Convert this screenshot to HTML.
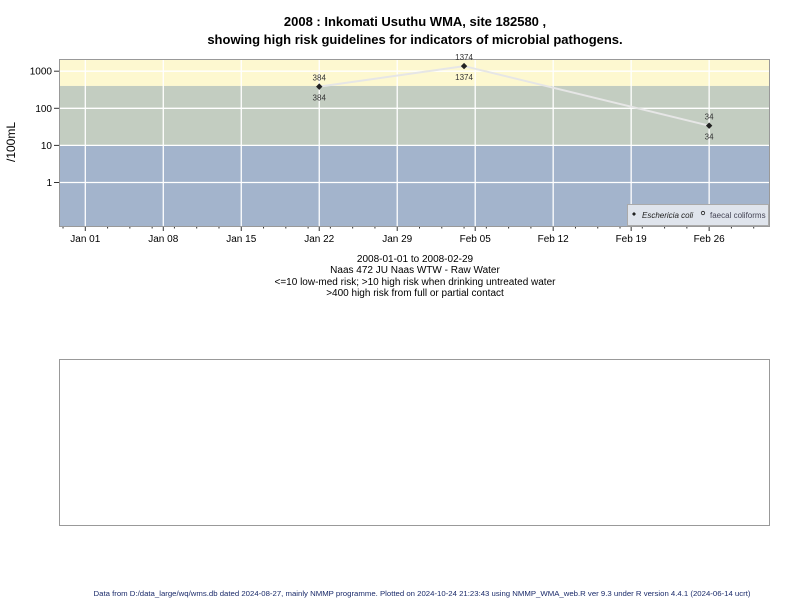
<!DOCTYPE html>
<html><head><meta charset="utf-8"><style>
html,body{margin:0;padding:0;background:#fff;width:800px;height:600px;overflow:hidden}
svg text{font-family:"Liberation Sans",Arial,sans-serif}
</style></head><body>
<svg id="chart" width="800" height="600" xmlns="http://www.w3.org/2000/svg">
<text x="415" y="26" text-anchor="middle" font-size="13" font-weight="bold">2008 : Inkomati Usuthu WMA, site 182580 ,</text>
<text x="415" y="44" text-anchor="middle" font-size="13" font-weight="bold">showing high risk guidelines for indicators of microbial pathogens.</text>
<g id="plot"></g>
<text transform="translate(15,142) rotate(-90)" text-anchor="middle" font-size="12">/100mL</text>
<g font-size="10" text-anchor="middle">
<text x="415" y="262">2008-01-01 to 2008-02-29</text>
<text x="415" y="273">Naas 472 JU Naas WTW - Raw Water</text>
<text x="415" y="285">&lt;=10 low-med risk; &gt;10 high risk when drinking untreated water</text>
<text x="415" y="296">&gt;400 high risk from full or partial contact</text>
</g>
<rect x="59.5" y="359.5" width="710" height="166" fill="none" stroke="#999"/>
<text x="422" y="596" text-anchor="middle" font-size="7.2" fill="#1a2a6a" textLength="657" lengthAdjust="spacingAndGlyphs">Data from D:/data_large/wq/wms.db dated 2024-08-27, mainly NMMP programme. Plotted on 2024-10-24 21:23:43 using NMMP_WMA_web.R ver 9.3 under R version 4.4.1 (2024-06-14 ucrt)</text>
</svg>
<script>
const dayOffsets = [21, 34, 56];
const ecoliValues = [384, 1374, 34];
const yTickValues = [1, 10, 100, 1000];
const xTickLabels = ["Jan 01","Jan 08","Jan 15","Jan 22","Jan 29","Feb 05","Feb 12","Feb 19","Feb 26"];
const xTickDays = [0, 7, 14, 21, 28, 35, 42, 49, 56];
const bandLimits = [10, 400];

const L=59, R=769, T=59, B=226;
const xs = d => 85.3 + d*11.14;
const ys = v => 182.5 - Math.log10(v)*37.1;
const NS="http://www.w3.org/2000/svg";
const g=document.getElementById('plot');
function mk(t,a,p){const e=document.createElementNS(NS,t);for(const k in a)e.setAttribute(k,a[k]);(p||g).appendChild(e);return e;}

let r;
r=mk('rect',{x:L,y:T,width:R-L,height:ys(bandLimits[1])-T,fill:'#fdf8d0'});


r=mk('rect',{x:L,y:ys(bandLimits[1]),width:R-L,height:ys(bandLimits[0])-ys(bandLimits[1]),fill:'#c3cdc1'});


r=mk('rect',{x:L,y:ys(bandLimits[0]),width:R-L,height:B-ys(bandLimits[0]),fill:'#a3b4cc'});



yTickValues.forEach(v=>{
  const y=ys(v);
  const l=mk('line',{x1:L,x2:R,y1:y,y2:y,stroke:'#fff','stroke-width':1.3});
  
  
  mk('line',{x1:L-5,x2:L,y1:y,y2:y,stroke:'#333'});
  const t=mk('text',{x:L-7,y:y+3.5,'text-anchor':'end','font-size':10});
  t.textContent=v;
  
  
});
xTickDays.forEach((d,i)=>{
  const x=xs(d);
  const l=mk('line',{x1:x,x2:x,y1:T,y2:B,stroke:'#fff','stroke-width':1.3});
  
  
  mk('line',{x1:x,x2:x,y1:B,y2:B+5,stroke:'#333'});
  const t=mk('text',{x:x,y:B+16,'text-anchor':'middle','font-size':10});
  t.textContent=xTickLabels[i];
  
  
});
for(let d=-2; d<=61; d++){ if(d%7===0) continue; if(d%2) continue;
  mk('line',{x1:xs(d),x2:xs(d),y1:B,y2:B+2.5,stroke:'#333'});
}
r=mk('rect',{x:L+0.5,y:T+0.5,width:R-L,height:B-T,fill:'none',stroke:'#999'});



const pts=dayOffsets.map((d,i)=>xs(d)+','+ys(ecoliValues[i])).join(' ');
const line=mk('polyline',{points:pts,fill:'none',stroke:'#e6e6e6','stroke-width':2});


dayOffsets.forEach((d,i)=>{
  const x=xs(d), y=ys(ecoliValues[i]);
  const p=mk('path',{d:`M${x},${y-3.2}L${x+3.2},${y}L${x},${y+3.2}L${x-3.2},${y}Z`,fill:'#222'});
  
  
  const a=mk('text',{x:x,y:y-6,'text-anchor':'middle','font-size':8,fill:'#333'});
  a.textContent=ecoliValues[i];
  
  
  const b=mk('text',{x:x,y:y+14,'text-anchor':'middle','font-size':8,fill:'#333'});
  b.textContent=ecoliValues[i];
  
  
});

const lg=mk('g',{});


mk('rect',{x:627.5,y:204.5,width:141,height:21,fill:'#dfe4ec',stroke:'#aaa'},lg);
const d1=mk('path',{d:'M634,212L636,214L634,216L632,214Z',fill:'#222'},lg);


const t1=mk('text',{x:642,y:218,'font-size':8,'font-style':'italic',fill:'#222'},lg);
t1.textContent='Eschericia coli';


const c2=mk('circle',{cx:703,cy:213,r:1.7,fill:'none',stroke:'#222','stroke-width':0.8},lg);


const t2=mk('text',{x:710,y:218,'font-size':8,fill:'#445'},lg);
t2.textContent='faecal coliforms';


</script>
</body></html>
